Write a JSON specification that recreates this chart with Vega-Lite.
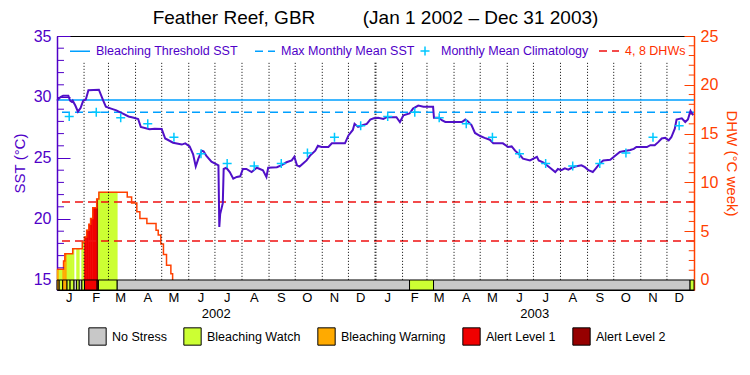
{
"$schema": "https://vega.github.io/schema/vega-lite/v6.json",
"width": 637, "height": 254,
"autosize": "none",
"padding": {"left": 57, "top": 36, "right": 56, "bottom": 85},
"background": "white",
"config": {
  "view": {"stroke": "black", "strokeWidth": 1},
  "font": "Liberation Sans",
  "axis": {"labelFont": "Liberation Sans", "titleFont": "Liberation Sans", "titleFontWeight": "normal", "grid": false,
           "labelOverlap": false, "labelFlush": false, "labelBound": false},
  "legend": {"labelFont": "Liberation Sans", "labelOverlap": false}
},
"title": {"text": "Feather Reef, GBR\u00a0\u00a0\u00a0\u00a0\u00a0\u00a0\u00a0\u00a0\u00a0(Jan 1 2002 \u2013 Dec 31 2003)", "fontSize": 19, "fontWeight": "normal", "color": "black", "anchor": "middle", "frame": "group", "offset": 0, "font": "Liberation Sans"},
"datasets": {
  "sst": [
    {"date":"2002/01/01","sst":29.7},{"date":"2002/01/05","sst":30.0},{"date":"2002/01/08","sst":30.1},{"date":"2002/01/14","sst":30.1},
    {"date":"2002/01/16","sst":29.7},{"date":"2002/01/18","sst":29.6},{"date":"2002/01/19","sst":29.7},{"date":"2002/01/22","sst":29.3},
    {"date":"2002/01/25","sst":28.8},{"date":"2002/01/28","sst":29.1},{"date":"2002/01/31","sst":29.7},{"date":"2002/02/03","sst":29.8},
    {"date":"2002/02/06","sst":30.55},{"date":"2002/02/18","sst":30.6},{"date":"2002/02/23","sst":29.7},{"date":"2002/02/26","sst":29.2},
    {"date":"2002/03/04","sst":29.05},{"date":"2002/03/10","sst":28.9},{"date":"2002/03/17","sst":28.65},{"date":"2002/03/24","sst":28.4},
    {"date":"2002/03/30","sst":28.3},{"date":"2002/04/04","sst":28.2},{"date":"2002/04/07","sst":27.55},{"date":"2002/04/17","sst":27.35},
    {"date":"2002/04/23","sst":27.4},{"date":"2002/05/01","sst":27.37},{"date":"2002/05/05","sst":26.6},{"date":"2002/05/14","sst":26.25},
    {"date":"2002/05/24","sst":26.1},{"date":"2002/05/28","sst":26.2},{"date":"2002/06/02","sst":25.95},{"date":"2002/06/06","sst":25.3},
    {"date":"2002/06/09","sst":24.3},{"date":"2002/06/12","sst":24.95},{"date":"2002/06/16","sst":25.6},{"date":"2002/06/18","sst":25.55},
    {"date":"2002/06/21","sst":25.2},{"date":"2002/06/27","sst":24.7},{"date":"2002/07/05","sst":24.4},{"date":"2002/07/06","sst":19.35},
    {"date":"2002/07/07","sst":20.4},{"date":"2002/07/10","sst":21.3},{"date":"2002/07/11","sst":24.1},{"date":"2002/07/14","sst":24.2},
    {"date":"2002/07/18","sst":23.85},{"date":"2002/07/22","sst":23.3},{"date":"2002/07/26","sst":23.45},{"date":"2002/07/30","sst":23.5},
    {"date":"2002/08/02","sst":24.1},{"date":"2002/08/06","sst":24.1},{"date":"2002/08/12","sst":23.85},{"date":"2002/08/18","sst":24.2},
    {"date":"2002/08/25","sst":24.0},{"date":"2002/08/29","sst":23.45},{"date":"2002/08/31","sst":24.2},{"date":"2002/09/10","sst":24.25},
    {"date":"2002/09/15","sst":24.4},{"date":"2002/09/21","sst":24.65},{"date":"2002/09/27","sst":24.8},{"date":"2002/09/30","sst":25.1},
    {"date":"2002/10/03","sst":24.4},{"date":"2002/10/06","sst":24.3},{"date":"2002/10/10","sst":24.55},{"date":"2002/10/14","sst":24.8},
    {"date":"2002/10/18","sst":25.2},{"date":"2002/10/24","sst":25.6},{"date":"2002/10/27","sst":26.0},{"date":"2002/10/31","sst":25.9},
    {"date":"2002/11/08","sst":25.9},{"date":"2002/11/12","sst":26.2},{"date":"2002/11/27","sst":26.2},{"date":"2002/12/01","sst":26.85},
    {"date":"2002/12/06","sst":27.3},{"date":"2002/12/08","sst":27.8},{"date":"2002/12/12","sst":27.55},{"date":"2002/12/18","sst":27.7},
    {"date":"2002/12/22","sst":27.8},{"date":"2002/12/26","sst":28.15},{"date":"2002/12/30","sst":28.25},
    {"date":"2003/01/04","sst":28.3},{"date":"2003/01/10","sst":28.2},{"date":"2003/01/14","sst":28.35},{"date":"2003/01/25","sst":28.35},
    {"date":"2003/01/29","sst":27.95},{"date":"2003/02/02","sst":28.5},{"date":"2003/02/09","sst":28.65},{"date":"2003/02/13","sst":29.05},
    {"date":"2003/02/19","sst":29.3},{"date":"2003/02/25","sst":29.2},{"date":"2003/03/08","sst":29.2},{"date":"2003/03/09","sst":28.3},
    {"date":"2003/03/15","sst":28.3},{"date":"2003/03/18","sst":28.1},{"date":"2003/03/22","sst":27.95},{"date":"2003/04/10","sst":27.95},
    {"date":"2003/04/14","sst":28.15},{"date":"2003/04/17","sst":28.0},{"date":"2003/04/21","sst":27.7},{"date":"2003/04/25","sst":27.05},
    {"date":"2003/05/01","sst":26.8},{"date":"2003/05/06","sst":26.65},{"date":"2003/05/12","sst":26.5},{"date":"2003/05/16","sst":26.2},
    {"date":"2003/05/27","sst":26.2},{"date":"2003/06/02","sst":25.9},{"date":"2003/06/06","sst":25.95},{"date":"2003/06/10","sst":25.6},
    {"date":"2003/06/16","sst":25.2},{"date":"2003/06/19","sst":24.95},{"date":"2003/06/27","sst":24.8},{"date":"2003/07/05","sst":25.1},
    {"date":"2003/07/07","sst":24.8},{"date":"2003/07/12","sst":24.65},{"date":"2003/07/20","sst":24.2},{"date":"2003/07/26","sst":23.85},
    {"date":"2003/07/29","sst":24.1},{"date":"2003/08/02","sst":24.0},{"date":"2003/08/06","sst":24.15},{"date":"2003/08/10","sst":24.05},
    {"date":"2003/08/14","sst":24.2},{"date":"2003/08/18","sst":24.3},{"date":"2003/08/25","sst":24.4},{"date":"2003/08/29","sst":24.25},
    {"date":"2003/09/02","sst":24.0},{"date":"2003/09/07","sst":23.85},{"date":"2003/09/11","sst":24.2},{"date":"2003/09/15","sst":24.55},
    {"date":"2003/09/19","sst":24.8},{"date":"2003/09/27","sst":24.85},{"date":"2003/10/03","sst":25.2},{"date":"2003/10/08","sst":25.5},
    {"date":"2003/10/12","sst":25.55},{"date":"2003/10/20","sst":25.65},{"date":"2003/10/24","sst":25.75},{"date":"2003/10/27","sst":25.9},
    {"date":"2003/11/08","sst":25.9},{"date":"2003/11/12","sst":26.05},{"date":"2003/11/17","sst":26.05},{"date":"2003/11/21","sst":26.3},
    {"date":"2003/11/25","sst":26.6},{"date":"2003/11/29","sst":26.65},{"date":"2003/12/03","sst":26.45},{"date":"2003/12/06","sst":26.7},
    {"date":"2003/12/10","sst":27.4},{"date":"2003/12/12","sst":28.15},{"date":"2003/12/18","sst":28.25},{"date":"2003/12/22","sst":27.95},
    {"date":"2003/12/25","sst":28.15},{"date":"2003/12/28","sst":28.85},{"date":"2003/12/31","sst":28.5}
  ],
  "clim": [
    {"date":"2002/01/15","clim":28.4,"series":"Monthly Mean Climatology"},{"date":"2002/02/15","clim":28.75,"series":"Monthly Mean Climatology"},
    {"date":"2002/03/15","clim":28.3,"series":"Monthly Mean Climatology"},{"date":"2002/04/15","clim":27.8,"series":"Monthly Mean Climatology"},
    {"date":"2002/05/15","clim":26.7,"series":"Monthly Mean Climatology"},{"date":"2002/06/15","clim":25.35,"series":"Monthly Mean Climatology"},
    {"date":"2002/07/15","clim":24.55,"series":"Monthly Mean Climatology"},{"date":"2002/08/15","clim":24.35,"series":"Monthly Mean Climatology"},
    {"date":"2002/09/15","clim":24.55,"series":"Monthly Mean Climatology"},{"date":"2002/10/15","clim":25.4,"series":"Monthly Mean Climatology"},
    {"date":"2002/11/15","clim":26.7,"series":"Monthly Mean Climatology"},{"date":"2002/12/15","clim":27.65,"series":"Monthly Mean Climatology"},
    {"date":"2003/01/15","clim":28.4,"series":"Monthly Mean Climatology"},{"date":"2003/02/15","clim":28.75,"series":"Monthly Mean Climatology"},
    {"date":"2003/03/15","clim":28.3,"series":"Monthly Mean Climatology"},{"date":"2003/04/15","clim":27.8,"series":"Monthly Mean Climatology"},
    {"date":"2003/05/15","clim":26.7,"series":"Monthly Mean Climatology"},{"date":"2003/06/15","clim":25.35,"series":"Monthly Mean Climatology"},
    {"date":"2003/07/15","clim":24.55,"series":"Monthly Mean Climatology"},{"date":"2003/08/15","clim":24.35,"series":"Monthly Mean Climatology"},
    {"date":"2003/09/15","clim":24.55,"series":"Monthly Mean Climatology"},{"date":"2003/10/15","clim":25.4,"series":"Monthly Mean Climatology"},
    {"date":"2003/11/15","clim":26.7,"series":"Monthly Mean Climatology"},{"date":"2003/12/15","clim":27.65,"series":"Monthly Mean Climatology"}
  ],
  "dhw": [
    {"start":"2002/01/01 00:00","end":"2002/01/03 12:00","dhw":1.1,"stress":"Bleaching Warning"},
    {"start":"2002/01/03 12:00","end":"2002/01/07 12:00","dhw":1.1,"stress":"Bleaching Watch"},
    {"start":"2002/01/07 12:00","end":"2002/01/08 12:00","dhw":1.1,"stress":"Bleaching Warning"},
    {"start":"2002/01/08 12:00","end":"2002/01/10 00:00","dhw":1.95,"stress":"Bleaching Warning"},
    {"start":"2002/01/10 00:00","end":"2002/01/12 12:00","dhw":2.7,"stress":"Bleaching Warning"},
    {"start":"2002/01/12 12:00","end":"2002/01/19 00:00","dhw":2.7,"stress":"Bleaching Watch"},
    {"start":"2002/01/19 00:00","end":"2002/01/20 12:00","dhw":3.2,"stress":"Bleaching Watch"},
    {"start":"2002/01/20 12:00","end":"2002/01/23 12:00","dhw":3.2,"stress":"No Stress"},
    {"start":"2002/01/23 12:00","end":"2002/01/26 12:00","dhw":3.2,"stress":"Bleaching Watch"},
    {"start":"2002/01/26 12:00","end":"2002/01/29 12:00","dhw":3.2,"stress":"No Stress"},
    {"start":"2002/01/29 12:00","end":"2002/01/30 00:00","dhw":3.2,"stress":"Bleaching Watch"},
    {"start":"2002/01/30 00:00","end":"2002/02/01 12:00","dhw":3.9,"stress":"Bleaching Watch"},
    {"start":"2002/02/01 12:00","end":"2002/02/04 00:00","dhw":4.4,"stress":"Alert Level 1"},
    {"start":"2002/02/04 00:00","end":"2002/02/06 12:00","dhw":5.1,"stress":"Alert Level 1"},
    {"start":"2002/02/06 12:00","end":"2002/02/08 12:00","dhw":5.7,"stress":"Alert Level 1"},
    {"start":"2002/02/08 12:00","end":"2002/02/11 00:00","dhw":6.3,"stress":"Alert Level 1"},
    {"start":"2002/02/11 00:00","end":"2002/02/15 12:00","dhw":7.4,"stress":"Alert Level 1"},
    {"start":"2002/02/15 12:00","end":"2002/02/16 00:00","dhw":8.3,"stress":"Alert Level 1"},
    {"start":"2002/02/16 00:00","end":"2002/02/17 12:00","dhw":8.3,"stress":"Alert Level 2"},
    {"start":"2002/02/17 12:00","end":"2002/02/18 00:00","dhw":8.3,"stress":"Bleaching Watch"},
    {"start":"2002/02/18 00:00","end":"2002/03/11 00:00","dhw":9.0,"stress":"Bleaching Watch"},
    {"start":"2002/03/11 00:00","end":"2002/03/22 12:00","dhw":9.0,"stress":"No Stress"},
    {"start":"2002/03/22 12:00","end":"2002/03/27 12:00","dhw":8.5,"stress":"No Stress"},
    {"start":"2002/03/27 12:00","end":"2002/04/02 12:00","dhw":7.9,"stress":"No Stress"},
    {"start":"2002/04/02 12:00","end":"2002/04/06 00:00","dhw":7.0,"stress":"No Stress"},
    {"start":"2002/04/06 00:00","end":"2002/04/14 00:00","dhw":6.3,"stress":"No Stress"},
    {"start":"2002/04/14 00:00","end":"2002/04/24 12:00","dhw":5.8,"stress":"No Stress"},
    {"start":"2002/04/24 12:00","end":"2002/04/27 00:00","dhw":5.1,"stress":"No Stress"},
    {"start":"2002/04/27 00:00","end":"2002/04/30 00:00","dhw":4.6,"stress":"No Stress"},
    {"start":"2002/04/30 00:00","end":"2002/05/03 00:00","dhw":3.7,"stress":"No Stress"},
    {"start":"2002/05/03 00:00","end":"2002/05/06 12:00","dhw":2.6,"stress":"No Stress"},
    {"start":"2002/05/06 12:00","end":"2002/05/11 12:00","dhw":1.5,"stress":"No Stress"},
    {"start":"2002/05/11 12:00","end":"2002/05/13 12:00","dhw":0.65,"stress":"No Stress"},
    {"start":"2002/05/13 12:00","end":"2002/05/14 00:00","dhw":0,"stress":"No Stress"}
  ],
  "stress": [
    {"start":"2002/01/01 00:00","end":"2002/01/03 12:00","stress":"Bleaching Warning"},
    {"start":"2002/01/03 12:00","end":"2002/01/07 12:00","stress":"Bleaching Watch"},
    {"start":"2002/01/07 12:00","end":"2002/01/12 12:00","stress":"Bleaching Warning"},
    {"start":"2002/01/12 12:00","end":"2002/01/16 00:00","stress":"Bleaching Watch"},
    {"start":"2002/01/16 00:00","end":"2002/01/20 12:00","stress":"Bleaching Watch"},
    {"start":"2002/01/20 12:00","end":"2002/01/23 12:00","stress":"No Stress"},
    {"start":"2002/01/23 12:00","end":"2002/01/26 12:00","stress":"Bleaching Watch"},
    {"start":"2002/01/26 12:00","end":"2002/01/29 12:00","stress":"No Stress"},
    {"start":"2002/01/29 12:00","end":"2002/02/01 12:00","stress":"Bleaching Watch"},
    {"start":"2002/02/01 12:00","end":"2002/02/16 00:00","stress":"Alert Level 1"},
    {"start":"2002/02/16 00:00","end":"2002/02/17 12:00","stress":"Alert Level 2"},
    {"start":"2002/02/17 12:00","end":"2002/03/11 00:00","stress":"Bleaching Watch"},
    {"start":"2002/03/11 00:00","end":"2003/02/09 00:00","stress":"No Stress"},
    {"start":"2003/02/09 00:00","end":"2003/03/08 12:00","stress":"Bleaching Watch"},
    {"start":"2003/03/08 12:00","end":"2003/12/27 12:00","stress":"No Stress"},
    {"start":"2003/12/27 12:00","end":"2004/01/01 00:00","stress":"Bleaching Watch"}
  ],
  "months": [
    {"d":"2002/02/01"},{"d":"2002/03/01"},{"d":"2002/04/01"},{"d":"2002/05/01"},{"d":"2002/06/01"},{"d":"2002/07/01"},
    {"d":"2002/08/01"},{"d":"2002/09/01"},{"d":"2002/10/01"},{"d":"2002/11/01"},{"d":"2002/12/01"},{"d":"2003/01/01"},
    {"d":"2003/02/01"},{"d":"2003/03/01"},{"d":"2003/04/01"},{"d":"2003/05/01"},{"d":"2003/06/01"},{"d":"2003/07/01"},
    {"d":"2003/08/01"},{"d":"2003/09/01"},{"d":"2003/10/01"},{"d":"2003/11/01"},{"d":"2003/12/01"}
  ],
  "monthlabels": [
    {"at":"2002/01/15","lab":"J"},{"at":"2002/02/15","lab":"F"},{"at":"2002/03/15","lab":"M"},{"at":"2002/04/15","lab":"A"},
    {"at":"2002/05/15","lab":"M"},{"at":"2002/06/15","lab":"J"},{"at":"2002/07/15","lab":"J"},{"at":"2002/08/15","lab":"A"},
    {"at":"2002/09/15","lab":"S"},{"at":"2002/10/15","lab":"O"},{"at":"2002/11/15","lab":"N"},{"at":"2002/12/15","lab":"D"},
    {"at":"2003/01/15","lab":"J"},{"at":"2003/02/15","lab":"F"},{"at":"2003/03/15","lab":"M"},{"at":"2003/04/15","lab":"A"},
    {"at":"2003/05/15","lab":"M"},{"at":"2003/06/15","lab":"J"},{"at":"2003/07/15","lab":"J"},{"at":"2003/08/15","lab":"A"},
    {"at":"2003/09/15","lab":"S"},{"at":"2003/10/15","lab":"O"},{"at":"2003/11/15","lab":"N"},{"at":"2003/12/15","lab":"D"}
  ],
  "yearlabels": [{"at":"2002/07/02 12:00","lab":"2002"},{"at":"2003/07/02 12:00","lab":"2003"}],
  "sstminor": [{"v":16},{"v":17},{"v":18},{"v":19},{"v":21},{"v":22},{"v":23},{"v":24},{"v":26},{"v":27},{"v":28},{"v":29},{"v":31},{"v":32},{"v":33},{"v":34}],
  "dhwminor": [{"v":1},{"v":2},{"v":3},{"v":4},{"v":6},{"v":7},{"v":8},{"v":9},{"v":11},{"v":12},{"v":13},{"v":14},{"v":16},{"v":17},{"v":18},{"v":19},{"v":21},{"v":22},{"v":23},{"v":24}],
  "sstref": [{"series":"Bleaching Threshold SST","sst":29.75},{"series":"Max Monthly Mean SST","sst":28.75}],
  "dhwref": [{"series":"4, 8 DHWs","dhw":4},{"series":"4, 8 DHWs","dhw":8}]
},
"layer": [
  {
    "layer": [
      {
        "data": {"name": "dhw"},
        "transform": [{"filter": "datum.stress !== 'No Stress'"}],
        "mark": {"type": "rect", "strokeWidth": 0.7},
        "encoding": {
          "x": {"field": "start", "type": "temporal", "axis": null,
                "scale": {"domain": [{"year":2002,"month":1,"date":1},{"year":2004,"month":1,"date":1}]}},
          "x2": {"field": "end"},
          "y": {"field": "dhw", "type": "quantitative",
                "scale": {"domain": [-1.0246, 25], "nice": false, "zero": false},
                "axis": {"orient": "right", "title": "DHW (\u00b0C week)", "titleColor": "#ff4000", "titleFontSize": 15, "titlePadding": 6,
                  "values": [0,5,10,15,20,25],
                  "labelColor": "#ff4000", "labelFontSize": 16,
                  "labelPadding": 16, "labelOverlap": false, "labelFlush": false,
                  "tickColor": "#ff4000", "tickWidth": 1, "tickSize": -10,
                  "domainColor": "#ff4000", "domainWidth": 1.5, "grid": false}},
          "y2": {"datum": 0},
          "color": {"field": "stress", "type": "nominal",
                    "scale": {"domain": ["No Stress","Bleaching Watch","Bleaching Warning","Alert Level 1","Alert Level 2"],
                              "range": ["#c8c8c8","#ccff33","#ffaa00","#f00000","#960000"]},
                    "legend": {"orient": "none", "legendX": 31, "legendY": 291, "direction": "horizontal", "columns": 5, "gridAlign": "none",
                      "title": null, "symbolType": "square", "symbolSize": 300, "symbolStrokeColor": "black", "symbolStrokeWidth": 1,
                      "symbolOpacity": 1, "labelFontSize": 12.5, "labelColor": "black", "columnPadding": 14, "labelOffset": 5, "padding": 0}},
          "stroke": {"field": "stress", "type": "nominal", "legend": null,
                    "scale": {"domain": ["No Stress","Bleaching Watch","Bleaching Warning","Alert Level 1","Alert Level 2"],
                              "range": ["#c8c8c8","#ccff33","#ffaa00","#f00000","#960000"]}}
        }
      },
      {
        "data": {"name": "dhwref"},
        "mark": {"type": "rule", "color": "#f01010", "strokeWidth": 1.5},
        "encoding": {
          "y": {"field": "dhw", "type": "quantitative"},
          "strokeDash": {"field": "series", "type": "nominal",
                         "scale": {"domain": ["4, 8 DHWs"], "range": [[8, 5]]},
                         "legend": {"orient": "none", "legendX": 541, "legendY": 4, "direction": "horizontal", "title": null,
                           "symbolType": "stroke", "symbolSize": 400, "symbolStrokeColor": "#f01010", "symbolStrokeWidth": 1.5,
                           "labelFontSize": 12.5, "labelColor": "#ff3000", "labelOffset": 5, "padding": 0}}
        }
      },
      {
        "data": {"name": "dhw"},
        "mark": {"type": "line", "color": "#ff4000", "strokeWidth": 1.5, "interpolate": "step-after"},
        "encoding": {
          "x": {"field": "start", "type": "temporal", "axis": null},
          "y": {"field": "dhw", "type": "quantitative"}
        }
      },
      {
        "data": {"name": "stress"},
        "mark": {"type": "rect", "stroke": "black", "strokeWidth": 1},
        "encoding": {
          "x": {"field": "start", "type": "temporal", "axis": null},
          "x2": {"field": "end"},
          "y": {"datum": 0, "type": "quantitative"},
          "y2": {"datum": -1.0246},
          "fill": {"field": "stress", "type": "nominal", "legend": null,
                    "scale": {"domain": ["No Stress","Bleaching Watch","Bleaching Warning","Alert Level 1","Alert Level 2"],
                              "range": ["#c8c8c8","#ccff33","#ffaa00","#f00000","#960000"]}}
        }
      },
      {
        "data": {"name": "dhwminor"},
        "mark": {"type": "rule", "color": "#ff4000", "strokeWidth": 1},
        "encoding": {
          "x": {"datum": {"year":2003,"month":12,"date":26}, "type": "temporal", "axis": null},
          "x2": {"datum": {"year":2004,"month":1,"date":1}},
          "y": {"field": "v", "type": "quantitative"}
        }
      },
      {
        "data": {"name": "monthlabels"},
        "mark": {"type": "text", "fontSize": 13, "font": "Liberation Sans", "color": "black", "baseline": "middle", "align": "center"},
        "encoding": {
          "x": {"field": "at", "type": "temporal", "axis": null},
          "y": {"datum": -1.844, "type": "quantitative"},
          "text": {"field": "lab"}
        }
      },
      {
        "data": {"name": "yearlabels"},
        "mark": {"type": "text", "fontSize": 13, "font": "Liberation Sans", "color": "black", "baseline": "middle", "align": "center"},
        "encoding": {
          "x": {"field": "at", "type": "temporal", "axis": null},
          "y": {"datum": -3.48, "type": "quantitative"},
          "text": {"field": "lab"}
        }
      }
    ]
  },
  {
    "layer": [
      {
        "data": {"name": "months"},
        "mark": {"type": "rule", "color": "black", "strokeDash": [1, 2]},
        "encoding": {
          "x": {"field": "d", "type": "temporal", "axis": null},
          "y": {"datum": 32.8, "type": "quantitative"},
          "y2": {"datum": 15},
          "strokeWidth": {"condition": {"test": "month(datum.d) === 0", "value": 2}, "value": 1}
        }
      },
      {
        "data": {"name": "sstminor"},
        "mark": {"type": "rule", "color": "#5000c8", "strokeWidth": 1},
        "encoding": {
          "x": {"datum": {"year":2002,"month":1,"date":1}, "type": "temporal", "axis": null},
          "x2": {"datum": {"year":2002,"month":1,"date":9}},
          "y": {"field": "v", "type": "quantitative"}
        }
      },
      {
        "data": {"name": "sstref"},
        "mark": {"type": "rule", "color": "#00a0ff", "strokeWidth": 1.5},
        "encoding": {
          "y": {"field": "sst", "type": "quantitative"},
          "strokeDash": {"field": "series", "type": "nominal",
                         "scale": {"domain": ["Bleaching Threshold SST","Max Monthly Mean SST"], "range": [[1, 0], [8, 5]]},
                         "legend": {"orient": "none", "legendX": 12, "legendY": 4, "direction": "horizontal", "title": null,
                           "symbolType": "stroke", "symbolSize": 400, "symbolStrokeColor": "#00a0ff", "symbolStrokeWidth": 1.5,
                           "labelFontSize": 12.5, "labelColor": "#5000c8", "labelOffset": 5, "columnPadding": 14, "padding": 0}}
        }
      },
      {
        "data": {"name": "sst"},
        "mark": {"type": "line", "color": "#5010c8", "strokeWidth": 2},
        "encoding": {
          "x": {"field": "date", "type": "temporal", "axis": null,
                "scale": {"domain": [{"year":2002,"month":1,"date":1},{"year":2004,"month":1,"date":1}]}},
          "y": {"field": "sst", "type": "quantitative",
                "scale": {"domain": [14.18, 35], "nice": false, "zero": false},
                "axis": {"orient": "left", "title": "SST (\u00b0C)", "titleColor": "#5000c8", "titleFontSize": 15, "titlePadding": 6,
                  "values": [15,20,25,30,35],
                  "labelColor": "#5000c8", "labelFontSize": 16,
                  "labelPadding": 19, "labelOverlap": false, "labelFlush": false,
                  "tickColor": "#5000c8", "tickWidth": 1, "tickSize": -13,
                  "domainColor": "#5000c8", "domainWidth": 1.5, "grid": false}}
        }
      },
      {
        "data": {"name": "clim"},
        "mark": {"type": "point", "filled": false, "size": 400, "strokeWidth": 1.5, "opacity": 1, "color": "#00c8ff"},
        "encoding": {
          "x": {"field": "date", "type": "temporal", "axis": null},
          "y": {"field": "clim", "type": "quantitative"},
          "shape": {"field": "series", "type": "nominal",
                    "scale": {"domain": ["Monthly Mean Climatology"], "range": ["M-0.45,0H0.45M0,-0.45V0.45"]},
                    "legend": {"orient": "none", "legendX": 357, "legendY": 4, "direction": "horizontal", "title": null,
                      "symbolSize": 400, "symbolStrokeWidth": 1.5, "symbolStrokeColor": "#00c8ff", "symbolFillColor": "transparent",
                      "labelFontSize": 12.5, "labelColor": "#5000c8", "labelOffset": 5, "padding": 0}}
        }
      }
    ]
  }
],
"resolve": {"scale": {"y": "independent", "color": "independent", "strokeDash": "independent"}}
}
